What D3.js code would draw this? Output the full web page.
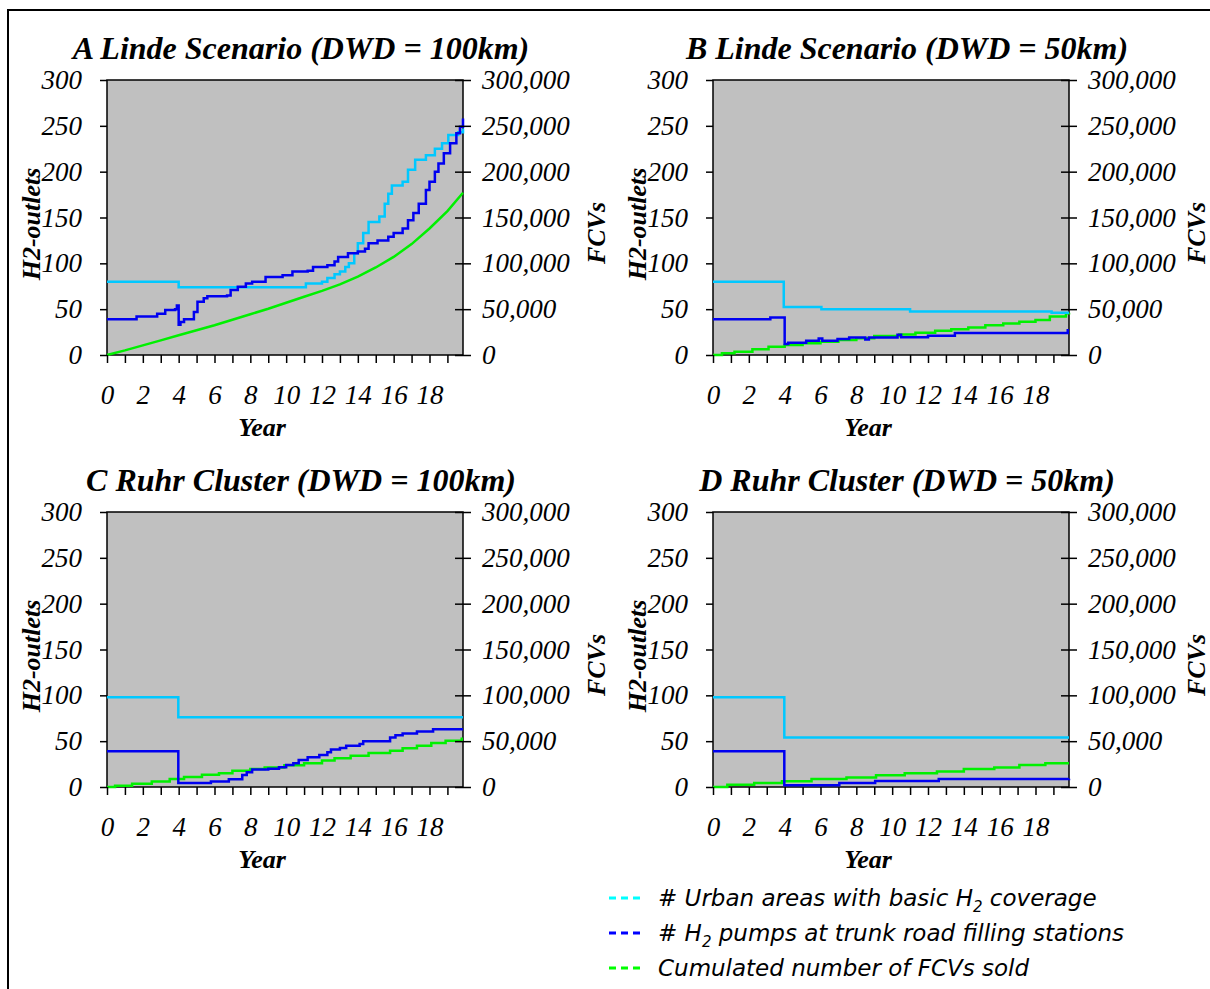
<!DOCTYPE html>
<html><head><meta http-equiv="Content-Type" content="text/html; charset=utf-8">
    <script src="https://d3js.org/d3.v7.min.js"></script>
    <style>
        body { margin: 0; background: #fff; }
    </style>
    </head>

    <body>

        <div class="chart"></div>

        <script type="text/javascript">

            // ------------------ DATA -----------------------------------

            var yearTicks = [0, 1, 2, 3, 4, 5, 6, 7, 8, 9, 10, 11, 12, 13, 14, 15, 16, 17, 18, 19];
            var outletTicks = [0, 50, 100, 150, 200, 250, 300];
            var fcvTicks = [0, 50000, 100000, 150000, 200000, 250000, 300000];

            var titles = ["A Linde Scenario (DWD = 100km)", "B Linde Scenario (DWD = 50km)",
                          "C Ruhr Cluster (DWD = 100km)", "D Ruhr Cluster (DWD = 50km)"];

            // [year, # urban areas with basic H2 coverage]
            var urbanA = [[0,80],[4.0,74],[11.1,78],[12.0,80],[12.3,84],[12.7,88],[13.0,91],[13.3,96],[13.5,100],[13.8,111],[14.0,122],[14.3,133],[14.6,145],[15.2,151],[15.5,165],[15.7,176],[15.9,185],[16.5,189],[16.8,202],[17.2,213],[17.8,218],[18.3,225],[18.7,231],[19.05,240],[19.6,243],[19.87,247]];
            var urbanB = [[0,80],[3.95,52.5],[6.05,50],[11.0,47.5],[18.9,46],[19.87,46]];
            var urbanC = [[0,98],[3.98,76],[19.87,76]];
            var urbanD = [[0,98],[3.98,54],[19.87,54]];

            // [year, # H2 pumps at trunk road filling stations]
            var pumpsA = [[0,39],[1.65,42],[2.8,45],[3.25,49],[3.8,50],[3.9,54],[4.0,33],[4.1,36],[4.3,39],[4.85,47],[5.05,58],[5.4,62],[5.6,64],[6.7,65],[6.9,71],[7.3,74.5],[7.75,78],[8.1,80],[8.85,85],[9.8,87],[10.35,91],[11.2,92],[11.5,96],[12.3,98],[12.7,102],[12.9,107],[13.45,111],[14.0,113],[14.4,116],[14.6,122],[15.1,125],[15.7,129],[16.0,133],[16.5,138],[16.8,147],[17.1,155],[17.4,165],[17.8,180],[18.0,189],[18.3,200],[18.5,209],[18.8,220],[19.15,231],[19.5,242],[19.7,249],[19.87,258]];
            var pumpsB = [[0,39],[3.2,41],[4.0,12],[4.2,13.5],[5.2,15.5],[5.9,18],[6.1,15.5],[6.95,17.5],[7.6,19],[8.5,17],[8.7,19],[10.3,22],[10.5,19.5],[12.0,21],[13.5,24],[19.8,27],[19.87,27]];
            var pumpsC = [[0,39],[3.98,4.5],[5.8,6],[6.8,8.5],[7.55,13],[7.8,16],[8.1,19],[9.0,20],[9.6,21.5],[10.0,24],[10.4,26],[10.7,29.5],[11.2,32.5],[11.85,35],[12.3,38],[12.5,41],[13.0,42.5],[13.35,45],[14.1,47],[14.3,50],[15.8,54],[16.1,56.5],[16.5,58.5],[17.3,60.5],[18.2,63],[19.87,63]];
            var pumpsD = [[0,39],[3.98,2],[7.05,4.5],[9.05,6.5],[12.6,8.7],[19.87,9]];

            // [year, cumulated number of FCVs sold]
            var fcvA = [[0,0],[1,5000],[2,10500],[3,16000],[4,21500],[5,27000],[6,32500],[7,38500],[8,44500],[9,50500],[10,57000],[11,63500],[12,70000],[13,77000],[14,85500],[15,95500],[16,107000],[17,121000],[18,138000],[19,157000],[19.87,177000]];
            var fcvB = [[0,0],[0.5,1800],[1.2,3600],[2.2,6200],[3.1,9000],[4.0,11000],[5.0,12700],[6.0,14500],[7.0,16400],[8.0,18200],[9.0,20700],[10.4,22500],[11.3,24400],[12.4,26500],[13.3,28000],[14.25,30000],[15.2,32400],[16.2,34500],[17.1,36400],[18.0,38200],[18.8,42000],[19.7,45500],[19.87,46000]];
            var fcvC = [[0,0],[0.45,1500],[1.4,3600],[2.5,6000],[3.5,8700],[4.3,11000],[5.3,13400],[6.25,15000],[7.0,17800],[8.0,19600],[8.8,21400],[9.9,23600],[11.0,26000],[12.0,29000],[12.7,31500],[13.6,34000],[14.6,37000],[15.8,39500],[16.5,42400],[17.3,45000],[18.1,48000],[18.9,50400],[19.8,52600],[19.87,52600]];
            var fcvD = [[0,0],[0.8,2500],[2.3,4400],[3.85,6200],[5.5,8700],[7.45,10500],[9.1,12700],[10.7,14900],[12.5,17000],[14.0,19600],[15.7,21400],[17.1,24000],[18.55,26000],[19.87,26000]];

            var legendLabels = ["# Urban areas with basic H", "# H", "Cumulated number of FCVs sold"];

            // ------------------ LAYOUT -----------------------------------

            var width = 1210;
            var height = 989;
            var plotW = 356, plotH = 275;
            var serif = "'Liberation Serif', 'Times New Roman', serif";

            var colUrban = "#00c8ff", colPumps = "#0000f0", colFcv = "#00f000";

            var svg = d3.select("div.chart")
                .append("svg")
                .attr("width", width)
                .attr("height", height)

            // outer frame
            svg.append("rect")
                .attr("x", 8).attr("y", 10)
                .attr("width", 1400).attr("height", 1200)
                .style("fill", "none").style("stroke", "#000").style("stroke-width", 2);

            var panels = [
                {x: 107, y: 80,  fcvLab: 498, title: titles[0], urban: urbanA, pumps: pumpsA, fcv: fcvA, fcvCurve: d3.curveLinear},
                {x: 713, y: 80,  fcvLab: 492, title: titles[1], urban: urbanB, pumps: pumpsB, fcv: fcvB, fcvCurve: d3.curveStepAfter},
                {x: 107, y: 512, fcvLab: 498, title: titles[2], urban: urbanC, pumps: pumpsC, fcv: fcvC, fcvCurve: d3.curveStepAfter},
                {x: 713, y: 512, fcvLab: 492, title: titles[3], urban: urbanD, pumps: pumpsD, fcv: fcvD, fcvCurve: d3.curveStepAfter}
            ];

            panels.forEach(function (p) {

                var g = svg.append("g");

                var x = d3.scaleLinear().domain([0, 19.87]).range([p.x, p.x + plotW]);
                var yL = d3.scaleLinear().domain([0, 300]).range([p.y + plotH, p.y]);
                var yR = d3.scaleLinear().domain([0, 300000]).range([p.y + plotH, p.y]);

                g.append("rect")
                    .attr("x", p.x).attr("y", p.y)
                    .attr("width", plotW).attr("height", plotH)
                    .style("fill", "#c0c0c0")
                    .style("stroke", "#000")
                    .style("stroke-width", 1.5);

                var stepLine = d3.line()
                    .x(function (d) { return x(d[0]); })
                    .y(function (d) { return yL(d[1]); })
                    .curve(d3.curveStepAfter);

                var fcvLine = d3.line()
                    .x(function (d) { return x(d[0]); })
                    .y(function (d) { return yR(d[1]); })
                    .curve(p.fcvCurve);

                g.append("path").attr("d", fcvLine(p.fcv))
                    .style("fill", "none").style("stroke", colFcv).style("stroke-width", 2.5);
                g.append("path").attr("d", stepLine(p.urban))
                    .style("fill", "none").style("stroke", colUrban).style("stroke-width", 2.5);
                g.append("path").attr("d", stepLine(p.pumps))
                    .style("fill", "none").style("stroke", colPumps).style("stroke-width", 2.5);

                // ----- axes -----
                var axL = g.append("g").attr("transform", "translate(" + p.x + ",0)")
                    .call(d3.axisLeft(yL).tickValues(outletTicks).tickSize(7).tickPadding(18));

                var axR = g.append("g").attr("transform", "translate(" + (p.x + plotW) + ",0)")
                    .call(d3.axisRight(yR).tickValues(fcvTicks).tickSize(8).tickPadding(11)
                        .tickFormat(d3.format(",")));
                axR.selectAll(".tick line").attr("x1", -8);

                var axB = g.append("g").attr("transform", "translate(0," + (p.y + plotH) + ")")
                    .call(d3.axisBottom(x).tickValues(yearTicks).tickSize(8).tickPadding(22)
                        .tickFormat(function (d) { return d % 2 === 0 ? d : ""; }));

                [axL, axR, axB].forEach(function (a) {
                    a.select(".domain").remove();
                    a.attr("font-family", serif).attr("font-size", 27)
                        .style("font-style", "italic");
                    a.selectAll(".tick line").style("stroke", "#000").style("stroke-width", 1.5);
                    a.selectAll("text").style("fill", "#000");
                });

                // ----- titles -----
                g.append("text")
                    .attr("x", p.x + 194).attr("y", p.y - 21)
                    .attr("text-anchor", "middle")
                    .style("font-family", serif).style("font-size", "32px")
                    .style("font-weight", "bold").style("font-style", "italic")
                    .text(p.title);

                g.append("text")
                    .attr("transform", "translate(" + (p.x - 67) + "," + (p.y + 144) + ")rotate(-90)")
                    .attr("text-anchor", "middle")
                    .style("font-family", serif).style("font-size", "26px")
                    .style("font-weight", "bold").style("font-style", "italic")
                    .text("H2-outlets");

                g.append("text")
                    .attr("transform", "translate(" + (p.x + p.fcvLab) + "," + (p.y + 153) + ")rotate(-90)")
                    .attr("text-anchor", "middle")
                    .style("font-family", serif).style("font-size", "26px")
                    .style("font-weight", "bold").style("font-style", "italic")
                    .text("FCVs");

                g.append("text")
                    .attr("x", p.x + 155).attr("y", p.y + 356)
                    .attr("text-anchor", "middle")
                    .style("font-family", serif).style("font-size", "26px")
                    .style("font-weight", "bold").style("font-style", "italic")
                    .text("Year");
            });

            // ------------------ LEGEND -----------------------------------

            var legendColors = ["#00ffff", "#0000ff", "#00ff00"];
            var legend = svg.append("g")
                .style("font-family", "'DejaVu Sans', Verdana, sans-serif")
                .style("font-size", "23px")
                .style("font-style", "italic");

            legendLabels.forEach(function (lab, i) {
                var ly = 898 + i * 35;
                legend.append("line")
                    .attr("x1", 609).attr("x2", 640).attr("y1", ly).attr("y2", ly)
                    .style("stroke", legendColors[i]).style("stroke-width", 3)
                    .style("stroke-dasharray", "7,5");
                var t = legend.append("text").attr("x", 658).attr("y", ly + 8);
                t.append("tspan").text(lab);
                if (i === 0) {
                    t.append("tspan").attr("dy", 6).style("font-size", "15px").text("2");
                    t.append("tspan").attr("dy", -6).text(" coverage");
                }
                if (i === 1) {
                    t.append("tspan").attr("dy", 6).style("font-size", "15px").text("2");
                    t.append("tspan").attr("dy", -6).text(" pumps at trunk road filling stations");
                }
            });

        </script>

    </body></html>
